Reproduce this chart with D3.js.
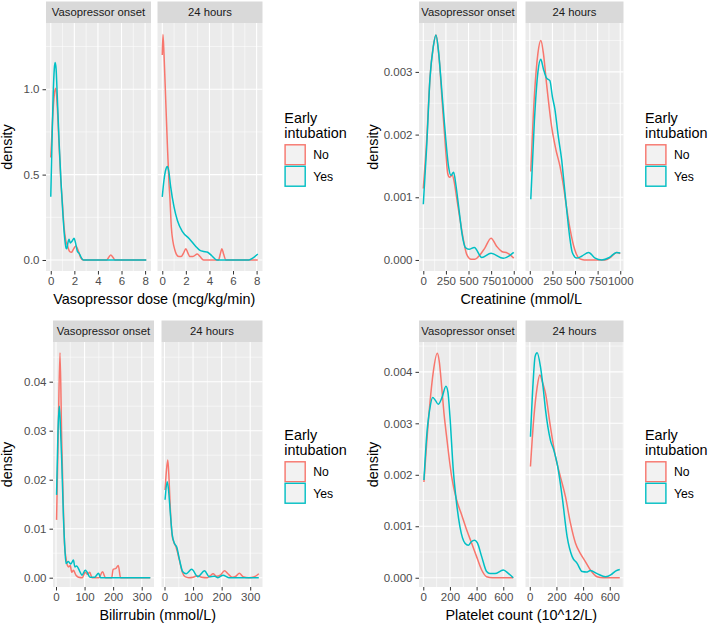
<!DOCTYPE html>
<html><head><meta charset="utf-8">
<script src="https://cdn.jsdelivr.net/npm/d3@7"></script>
<style>body{margin:0;background:#fff;} svg{display:block;font-family:"Liberation Sans",Arial,Helvetica,sans-serif;}</style>
</head><body><svg id="chart" width="708" height="626"></svg>
<script>
// ---------- categories ----------
const facets = ["Vasopressor onset", "24 hours"];
const groups = ["No", "Yes"];
const groupColors = ["#F8766D", "#00BFC4"];
const legendTitle = ["Early", "intubation"];

// ---------- Vasopressor dose ----------
const vasoXTicks = [0, 2, 4, 6, 8];
const vasoYTicks = [0, 0.5, 1.0];
const vasoOnsetNo = [[0,0.6],[0.15,0.82],[0.3,0.97],[0.42,1.006],[0.55,0.9],[0.7,0.68],[0.85,0.47],[1.0,0.32],[1.13,0.19],[1.27,0.115],[1.41,0.085],[1.6,0.05],[1.75,0.045],[1.9,0.06],[2.12,0.082],[2.3,0.06],[2.5,0.02],[2.77,0],[4.75,0],[4.92,0.016],[5.09,0.029],[5.27,0.016],[5.45,0],[8.1,0]];
const vasoOnsetYes = [[0,0.37],[0.1,0.68],[0.2,0.96],[0.3,1.12],[0.37,1.156],[0.45,1.12],[0.55,0.96],[0.7,0.7],[0.85,0.48],[1.0,0.3],[1.15,0.15],[1.3,0.07],[1.36,0.066],[1.45,0.1],[1.55,0.121],[1.65,0.1],[1.8,0.11],[1.98,0.127],[2.1,0.1],[2.26,0.05],[2.4,0.04],[2.6,0.012],[2.77,0],[8.1,0]];
const vaso24No = [[0,1.2],[0.06,1.32],[0.15,1.2],[0.29,0.94],[0.43,0.68],[0.57,0.45],[0.65,0.36],[0.77,0.19],[0.9,0.11],[1.06,0.06],[1.2,0.033],[1.4,0.02],[1.6,0.02],[1.8,0.04],[2.0,0.066],[2.15,0.045],[2.34,0.02],[2.6,0.02],[2.97,0.035],[3.2,0.02],[3.5,0],[4.77,0],[4.92,0.035],[5.06,0.066],[5.2,0.035],[5.4,0],[8.1,0]];
const vaso24Yes = [[0,0.37],[0.15,0.47],[0.3,0.53],[0.43,0.547],[0.55,0.52],[0.71,0.43],[1.0,0.31],[1.29,0.23],[1.71,0.166],[2.29,0.125],[2.86,0.078],[3.2,0.056],[3.5,0.05],[3.8,0.047],[4.2,0.025],[4.63,0],[7.35,0],[7.7,0.012],[8.1,0.035]];

// ---------- Creatinine ----------
const creatXTicks = [0, 250, 500, 750, 1000];
const creatYTicks = [0, 0.001, 0.002, 0.003];
const creatOnsetNo = [[0,0.00114],[37,0.0019],[74,0.0029],[110,0.0034],[140,0.00359],[170,0.0033],[210,0.0025],[245,0.0018],[270,0.00138],[290,0.00132],[320,0.00135],[345,0.00122],[370,0.00098],[400,0.0007],[440,0.00035],[480,0.00009],[530,0.00001],[570,0.00001],[620,0.00007],[680,0.00019],[749,0.000346],[810,0.00022],[867,0.000135],[930,0.00011],[1000,0.00003]];
const creatOnsetYes = [[0,0.00089],[37,0.0018],[74,0.0029],[110,0.0034],[140,0.00359],[170,0.0033],[210,0.0026],[250,0.0019],[280,0.00148],[305,0.00135],[335,0.0014],[360,0.0012],[395,0.0008],[430,0.0004],[465,0.0002],[505,0.00017],[564,0.0002],[646,0.00004],[749,0.000106],[885,0.000027],[1000,0.00012]];
const creat24No = [[11,0.00141],[50,0.0026],[90,0.0033],[122,0.0035],[150,0.0033],[186,0.0028],[241,0.00213],[290,0.00175],[333,0.0015],[370,0.0012],[400,0.0009],[444,0.0005],[500,0.00015],[550,0.00002],[600,0],[830,0],[900,0.00005],[960,0.00012],[1000,0.0001]];
const creat24Yes = [[11,0.00097],[50,0.0022],[90,0.003],[121,0.0032],[150,0.00305],[186,0.0029],[222,0.00286],[250,0.0026],[278,0.0024],[315,0.00197],[352,0.0016],[380,0.0012],[408,0.0008],[440,0.00038],[470,0.00012],[519,0.00003],[574,0.00006],[650,0.00012],[722,0.00003],[796,0],[880,0.00004],[960,0.00012],[1000,0.00011]];

// ---------- Bilirubin ----------
const biliXTicks = [0, 100, 200, 300];
const biliYTicks = [0, 0.01, 0.02, 0.03, 0.04];
const biliOnsetNo = [[2,0.0118],[8,0.03],[14,0.0459],[20,0.028],[26,0.0138],[30,0.0067],[35,0.004],[40,0.0025],[45,0.0022],[50,0.0025],[55,0.0011],[61,0.0015],[70,0.0005],[79,0.0001],[92,0],[102,0.0011],[110,0.0007],[118,0.0011],[126,0],[150,0],[163,0.0012],[173,0],[195,0],[200,0.0017],[210,0.0019],[218,0.0025],[226,0],[330,0]];
const biliOnsetYes = [[2,0.0169],[7,0.03],[11.7,0.035],[16,0.03],[20,0.024],[26,0.0125],[31,0.006],[35,0.0029],[43,0.0033],[52,0.0028],[61,0.0036],[66,0.0022],[72,0.0024],[84,0.0012],[91,0.0005],[102,0.0015],[108,0.0012],[119,0.0001],[135,0.0001],[149,0.0009],[156,0],[330,0]];
const bili24No = [[2,0.0179],[7,0.022],[11.7,0.024],[16,0.02],[20,0.0145],[27,0.0085],[33,0.0072],[40,0.0063],[52,0.0036],[62,0.0012],[72,0.0002],[85,0],[100,0.0001],[115,0.0004],[130,0.0001],[150,0],[160,0.0004],[170,0.0008],[182,0.0003],[195,0.0005],[210,0.0014],[222,0.0008],[237,0.0001],[250,0.0003],[262,0.0009],[275,0.0002],[295,0],[315,0.0002],[330,0.0008]];
const bili24Yes = [[2,0.0159],[9.3,0.0196],[14,0.018],[20,0.0135],[27,0.0088],[35,0.007],[43,0.0062],[52,0.0038],[64,0.0012],[76,0.0008],[95,0.0017],[117,0.0002],[140,0.0014],[157,0.0002],[175,0.0003],[187,0],[205,0.0005],[225,0],[330,0]];

// ---------- Platelet count ----------
const platXTicks = [0, 200, 400, 600];
const platYTicks = [0, 0.001, 0.002, 0.003, 0.004];
const platOnsetNo = [[5,0.00186],[25,0.0026],[50,0.0034],[75,0.004],[105,0.00436],[120,0.0042],[138,0.00371],[155,0.0032],[175,0.00274],[213,0.00196],[250,0.00151],[288,0.00122],[325,0.00093],[363,0.00067],[400,0.00041],[438,0.00015],[475,0.00002],[520,0],[675,0]];
const platOnsetYes = [[5,0.0019],[25,0.00274],[50,0.0033],[70,0.0035],[90,0.00345],[112,0.00337],[140,0.0035],[170,0.00372],[185,0.0036],[200,0.00313],[225,0.00209],[250,0.00144],[275,0.00099],[313,0.00067],[338,0.00063],[360,0.0007],[385,0.00073],[405,0.00068],[438,0.00041],[475,0.00012],[500,0.00008],[538,0.00008],[600,0.00015],[640,0.00008],[675,0]];
const plat24No = [[5,0.00216],[30,0.0031],[55,0.0037],[75,0.00394],[95,0.0038],[118,0.00358],[155,0.00293],[193,0.00235],[230,0.00196],[268,0.00157],[305,0.00106],[343,0.00067],[380,0.00047],[418,0.00031],[455,0.00015],[505,0.00002],[550,0],[675,0]];
const plat24Yes = [[5,0.00274],[25,0.0038],[40,0.0043],[55,0.00437],[80,0.0041],[100,0.0037],[118,0.00326],[155,0.00267],[180,0.00248],[205,0.00222],[243,0.00157],[280,0.0008],[318,0.00041],[355,0.00028],[393,0.00012],[425,0.00011],[455,0.00014],[505,0.00008],[568,0.00002],[610,0.00006],[643,0.00013],[675,0.00016]];

// ---------- panel specs ----------
const panels = [
  {xTitle:"Vasopressor dose (mcg/kg/min)", xTicks:vasoXTicks, yTicks:vasoYTicks, yFmt:d3.format(".1f"),
   xDomain:[-0.405,8.5], yDomain:[-0.0645,1.388], series:[[vasoOnsetNo,vasoOnsetYes],[vaso24No,vaso24Yes]],
   fx:[[46,151],[157.5,262.5]], stripY:[1.5,23], plotY:[23,271], yTitleX:12, legX:284.3, legY:110},
  {xTitle:"Creatinine (mmol/L", xTicks:creatXTicks, yTicks:creatYTicks, yFmt:d3.format(".3f"),
   xDomain:[-47.6,1036], yDomain:[-0.000176,0.00378], series:[[creatOnsetNo,creatOnsetYes],[creat24No,creat24Yes]],
   fx:[[419,517],[525.5,623.5]], stripY:[1.5,23], plotY:[23,271], yTitleX:378, legX:645, legY:110},
  {xTitle:"Bilirrubin (mmol/L)", xTicks:biliXTicks, yTicks:biliYTicks, yFmt:d3.format(".2f"),
   xDomain:[-10.5,343], yDomain:[-0.0019,0.0481], series:[[biliOnsetNo,biliOnsetYes],[bili24No,bili24Yes]],
   fx:[[53,154],[161.5,262.5]], stripY:[320.5,342], plotY:[342,587], yTitleX:12, legX:284.3, legY:427},
  {xTitle:"Platelet count (10^12/L)", xTicks:platXTicks, yTicks:platYTicks, yFmt:d3.format(".3f"),
   xDomain:[-32.2,703], yDomain:[-0.00018,0.00458], series:[[platOnsetNo,platOnsetYes],[plat24No,plat24Yes]],
   fx:[[419,517],[525.5,623.5]], stripY:[320.5,342], plotY:[342,587], yTitleX:378, legX:645, legY:427}
];

const svg = d3.select("#chart");

function minorBreaks(ticks, domain){
  const step = ticks[1]-ticks[0];
  const out = [];
  const ext = [ticks[0]-step, ...ticks, ticks[ticks.length-1]+step];
  for(let i=0;i<ext.length-1;i++){
    const m = (ext[i]+ext[i+1])/2;
    if(m>=domain[0] && m<=domain[1]) out.push(m);
  }
  return out;
}

panels.forEach((p, pi) => {
  const g = svg.append("g");
  const y = d3.scaleLinear().domain(p.yDomain).range([p.plotY[1], p.plotY[0]]);
  const xMinor = minorBreaks(p.xTicks, p.xDomain);
  const yMinor = minorBreaks(p.yTicks, p.yDomain);
  p.fx.forEach((fr, fi) => {
    const x = d3.scaleLinear().domain(p.xDomain).range(fr);
    const fg = g.append("g");
    fg.append("rect").attr("x", fr[0]).attr("y", p.plotY[0]).attr("width", fr[1]-fr[0]).attr("height", p.plotY[1]-p.plotY[0]).attr("fill", "#EBEBEB");
    fg.selectAll(null).data(yMinor).join("line").attr("x1", fr[0]).attr("x2", fr[1]).attr("y1", d=>y(d)).attr("y2", d=>y(d)).attr("stroke","#fff").attr("stroke-width",0.55);
    fg.selectAll(null).data(xMinor).join("line").attr("y1", p.plotY[0]).attr("y2", p.plotY[1]).attr("x1", d=>x(d)).attr("x2", d=>x(d)).attr("stroke","#fff").attr("stroke-width",0.55);
    fg.selectAll(null).data(p.yTicks).join("line").attr("x1", fr[0]).attr("x2", fr[1]).attr("y1", d=>y(d)).attr("y2", d=>y(d)).attr("stroke","#fff").attr("stroke-width",1.1);
    fg.selectAll(null).data(p.xTicks).join("line").attr("y1", p.plotY[0]).attr("y2", p.plotY[1]).attr("x1", d=>x(d)).attr("x2", d=>x(d)).attr("stroke","#fff").attr("stroke-width",1.1);
    const cid = `clip${pi}_${fi}`;
    svg.append("clipPath").attr("id", cid).append("rect").attr("x", fr[0]).attr("y", p.plotY[0]).attr("width", fr[1]-fr[0]).attr("height", p.plotY[1]-p.plotY[0]);
    const line = d3.line().x(d=>x(d[0])).y(d=>y(d[1])).curve(d3.curveMonotoneX);
    p.series[fi].forEach((arr, gi) => {
      fg.append("path").datum(arr).attr("d", line).attr("fill","none").attr("stroke", groupColors[gi]).attr("stroke-width",1.5).attr("stroke-linejoin","round").attr("clip-path", `url(#${cid})`);
    });
    fg.append("rect").attr("x", fr[0]).attr("y", p.stripY[0]).attr("width", fr[1]-fr[0]).attr("height", p.stripY[1]-p.stripY[0]).attr("fill", "#D9D9D9");
    fg.append("text").attr("x", (fr[0]+fr[1])/2).attr("y", (p.stripY[0]+p.stripY[1])/2 + 4).attr("text-anchor","middle").attr("font-size","11.3px").attr("fill","#1A1A1A").text(facets[fi]);
    const xa = fg.append("g").attr("transform", `translate(0,${p.plotY[1]})`)
      .call(d3.axisBottom(x).tickValues(p.xTicks).tickFormat(d3.format("d")).tickSize(3.5).tickPadding(2));
    xa.select(".domain").remove();
    xa.selectAll("line").attr("stroke","#333");
    xa.selectAll("text").attr("fill","#4D4D4D").attr("font-size","11.5px").attr("font-family","Liberation Sans, Arial, sans-serif");
    if(fi===0){
      const ya = fg.append("g").attr("transform", `translate(${fr[0]},0)`)
        .call(d3.axisLeft(y).tickValues(p.yTicks).tickFormat(p.yFmt).tickSize(3.5).tickPadding(3));
      ya.select(".domain").remove();
      ya.selectAll("line").attr("stroke","#333");
      ya.selectAll("text").attr("fill","#4D4D4D").attr("font-size","11.5px").attr("font-family","Liberation Sans, Arial, sans-serif");
    }
  });
  const cx = (p.fx[0][0] + p.fx[1][1]) / 2;
  g.append("text").attr("x", cx).attr("y", p.plotY[1] + 32.5).attr("text-anchor","middle").attr("font-size","14.4px").attr("fill","#000").text(p.xTitle);
  const cy = (p.plotY[0] + p.plotY[1]) / 2;
  g.append("text").attr("transform", `translate(${p.yTitleX},${cy}) rotate(-90)`).attr("text-anchor","middle").attr("font-size","14.4px").attr("fill","#000").text("density");
  const lg = g.append("g").attr("transform", `translate(${p.legX},${p.legY})`);
  legendTitle.forEach((t, i) => {
    lg.append("text").attr("x", 0).attr("y", 13 + i*15).attr("font-size","14.4px").attr("fill","#000").text(t);
  });
  groups.forEach((gname, i) => {
    const ky = 34 + i*21.5;
    lg.append("rect").attr("x", 0).attr("y", ky).attr("width", 21.7).attr("height", 21.5).attr("fill", "#F2F2F2");
    lg.append("rect").attr("x", 0.8).attr("y", ky+0.8).attr("width", 20.1).attr("height", 19.9).attr("fill", "none").attr("stroke", groupColors[i]).attr("stroke-width", 1.4);
    lg.append("text").attr("x", 29).attr("y", ky + 15).attr("font-size","12.2px").attr("fill","#000").text(gname);
  });
});
</script>
</body></html>
